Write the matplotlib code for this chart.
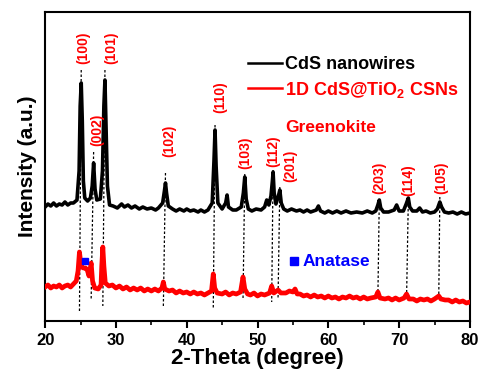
import matplotlib.pyplot as plt

plt.rcParams['font.family'] = 'Liberation Sans'
plt.rcParams['font.weight'] = 'bold'
plt.rcParams['mathtext.fontset'] = 'custom'
plt.rcParams['mathtext.rm'] = 'Liberation Sans:bold'
plt.rcParams['mathtext.default'] = 'rm'

# CdS nanowires pattern, (2-theta, intensity a.u.)
cds_points = [
    (20.0, 114), (20.4, 117), (20.8, 115), (21.2, 118), (21.6, 115), (22, 117), (22.4, 116),
    (22.8, 119), (23.2, 116), (23.6, 118), (24, 118), (24.5, 121), (24.8, 150), (24.95, 215),
    (25.1, 238), (25.25, 200), (25.4, 140), (25.6, 123), (26.0, 120), (26.4, 123), (26.65, 135),
    (26.85, 158), (27.05, 132), (27.3, 121), (27.8, 122), (28.1, 150), (28.3, 215), (28.45, 241),
    (28.6, 195), (28.8, 135), (29.1, 116), (29.6, 115), (30.2, 113), (30.8, 117), (31.2, 114),
    (31.7, 116), (32.2, 113), (32.7, 115), (33.3, 112), (33.8, 114), (34.4, 112), (35, 113),
    (35.6, 111), (36, 113), (36.6, 118), (36.85, 130), (37.0, 138), (37.15, 128), (37.4, 115),
    (38, 112), (38.5, 110), (39, 112), (39.6, 110), (40, 112), (40.5, 110), (41, 111),
    (41.6, 109), (42, 111), (42.5, 109), (43, 111), (43.6, 118), (43.85, 160), (44.0, 191),
    (44.15, 155), (44.4, 118), (45, 112), (45.5, 118), (45.7, 126), (45.9, 114), (46.5, 111),
    (47, 111), (47.7, 114), (48.0, 128), (48.2, 144), (48.4, 122), (48.7, 112), (49.2, 110),
    (49.8, 112), (50.5, 111), (51.0, 114), (51.3, 121), (51.6, 116), (51.9, 125), (52.1, 140),
    (52.2, 149), (52.35, 128), (52.6, 117), (52.95, 125), (53.15, 131), (53.35, 118), (53.7, 112),
    (54.2, 110), (54.8, 112), (55.5, 110), (56, 111), (56.5, 109), (57, 111), (57.5, 109),
    (58.3, 111), (58.6, 115), (58.9, 110), (59.5, 108), (60, 110), (60.6, 108), (61.2, 110),
    (61.8, 108), (62.5, 110), (63.2, 108), (64, 109), (64.8, 108), (65.5, 110), (66.2, 108),
    (66.7, 110), (67.0, 116), (67.2, 121), (67.4, 113), (67.8, 109), (68.5, 109), (69.3, 111),
    (69.65, 116), (70.0, 110), (70.6, 110), (71.0, 117), (71.3, 123), (71.5, 114), (71.9, 110),
    (72.5, 110), (72.9, 113), (73.3, 109), (73.8, 110), (74.4, 108), (75, 109), (75.4, 112),
    (75.75, 119), (76.0, 114), (76.4, 109), (77, 108), (77.6, 109), (78.2, 107), (78.8, 109),
    (79.4, 107), (80, 108),
]

# 1D CdS@TiO2 core-shell nanostructures pattern
csn_points = [
    (20.0, 34), (20.4, 36), (20.8, 33), (21.2, 35), (21.6, 34), (22, 36), (22.4, 33), (22.8, 35),
    (23.2, 36), (23.6, 34), (24.0, 37), (24.4, 40), (24.65, 50), (24.85, 69), (25.0, 60),
    (25.15, 54), (25.4, 53), (25.7, 53), (25.95, 51), (26.2, 45), (26.5, 58), (26.7, 40),
    (27.0, 33), (27.5, 32), (27.9, 36), (28.0, 55), (28.15, 74), (28.3, 55), (28.5, 38),
    (29.0, 35), (29.5, 36), (30, 33), (30.5, 35), (31, 32), (31.5, 34), (32, 31), (32.5, 33),
    (33, 31), (33.5, 33), (34, 30), (34.5, 32), (35, 30), (35.5, 32), (36.0, 30), (36.5, 33),
    (36.7, 39), (36.9, 32), (37.5, 30), (38, 31), (38.5, 28), (39, 30), (39.5, 28), (40, 29),
    (40.5, 27), (41, 29), (41.5, 27), (42, 28), (42.5, 26), (43, 28), (43.5, 30), (43.75, 47),
    (43.95, 33), (44.3, 28), (45, 27), (45.5, 29), (46, 26), (46.5, 28), (47, 27), (47.6, 29),
    (47.95, 44), (48.2, 32), (48.6, 27), (49, 26), (49.5, 28), (50, 25), (50.5, 27), (51, 26),
    (51.7, 28), (52.0, 35), (52.3, 28), (52.9, 31), (53.3, 28), (54, 28), (54.5, 30), (55.0, 29),
    (55.3, 32), (55.6, 27), (56, 27), (56.5, 25), (57, 26), (57.5, 24), (58, 26), (58.5, 24),
    (59, 25), (59.5, 23), (60, 25), (60.5, 23), (61, 24), (61.5, 22), (62, 24), (62.5, 23),
    (63, 25), (63.5, 23), (64, 24), (64.5, 22), (65, 24), (65.5, 22), (66, 23), (66.7, 24),
    (67.0, 29), (67.3, 23), (68, 22), (68.5, 23), (69, 21), (69.5, 23), (70, 21), (70.7, 23),
    (71.05, 27), (71.4, 22), (72, 22), (72.5, 20), (73, 22), (73.5, 21), (74, 22), (74.5, 20),
    (75, 22), (75.6, 25), (75.9, 22), (76.5, 21), (77, 21), (77.5, 19), (78, 21), (78.5, 19),
    (79, 20), (79.5, 18), (80, 19),
]

# Greenokite reflections: dotted guide lines and labels
hkl = ['(100)', '(002)', '(101)', '(102)', '(110)', '(103)', '(112)', '(201)', '(203)', '(114)', '(105)']
guide_top_x = [25.1, 26.85, 28.45, 37.0, 44.0, 48.2, 52.2, 53.15, 67.2, 71.3, 75.75]
guide_top_y = [251, 169, 251, 148, 196, 147, 151, 134, 122, 121, 124]
guide_bot_x = [24.85, 26.5, 28.15, 36.7, 43.75, 47.95, 52.0, 52.9, 67.0, 71.05, 75.6]
guide_bot_y = [9, 21, 15, 15, 13, 21, 19, 23, 24, 23, 24]
label_x = [25.4, 27.3, 29.4, 37.5, 44.7, 48.3, 52.25, 54.6, 67.2, 71.3, 76.0]
label_y = [273, 191, 273, 180, 224, 168, 170, 155, 143, 141, 143]

# anatase marker on the red pattern
anatase_x = [25.6]
anatase_y = [60]

cds_x, cds_y = zip(*cds_points)
csn_x, csn_y = zip(*csn_points)

fig = plt.figure(figsize=(4.8, 3.75), dpi=100)
ax = fig.add_axes([0.094, 0.144, 0.885, 0.824])

for tx, ty, bx, by in zip(guide_top_x, guide_top_y, guide_bot_x, guide_bot_y):
    ax.plot([tx, bx], [ty, by], color='black', lw=0.9, linestyle=(0, (2, 1.6)), zorder=1)

ax.plot(cds_x, cds_y, color='black', lw=2.6, label='CdS nanowires', zorder=3)
ax.plot(csn_x, csn_y, color='red', lw=3.4, label='1D CdS@TiO$_2$ CSNs', zorder=3)

for lab, lx, ly in zip(hkl, label_x, label_y):
    ax.text(lx, ly, lab, color='red', fontsize=10, fontweight='bold', rotation=90,
            ha='center', va='center')

ax.plot(anatase_x, anatase_y, 's', color='blue', markersize=4.5, zorder=4)
ax.plot([55.1], [60], 's', color='blue', markersize=5.5)
ax.text(56.3, 60, 'Anatase', color='blue', fontsize=12.5, fontweight='bold', va='center')
ax.text(53.9, 194, 'Greenokite', color='red', fontsize=12.5, fontweight='bold', va='center')

leg = ax.legend(loc='upper left', bbox_to_anchor=(0.478, 0.856), frameon=False,
                fontsize=13, handlelength=1.85, handletextpad=0.2, labelspacing=0.35,
                borderpad=0, borderaxespad=0)
leg.get_texts()[1].set_color('red')
for line in leg.get_lines():
    line.set_linewidth(1.8)

ax.set_xlim(20, 80)
ax.set_ylim(0, 309)
ax.set_xticks([20, 30, 40, 50, 60, 70, 80])
ax.set_xticks([25, 35, 45, 55, 65, 75], minor=True)
ax.set_yticks([])
ax.tick_params(axis='x', which='major', direction='out', length=5, width=1.5, labelsize=12)
ax.tick_params(axis='x', which='minor', direction='out', length=3, width=1.2)
for sp in ax.spines.values():
    sp.set_linewidth(1.5)

ax.set_xlabel('2-Theta (degree)', fontsize=16, fontweight='bold', labelpad=0)
ax.set_ylabel('Intensity (a.u.)', fontsize=15, fontweight='bold', labelpad=6)

plt.savefig('out.png', dpi=100)
